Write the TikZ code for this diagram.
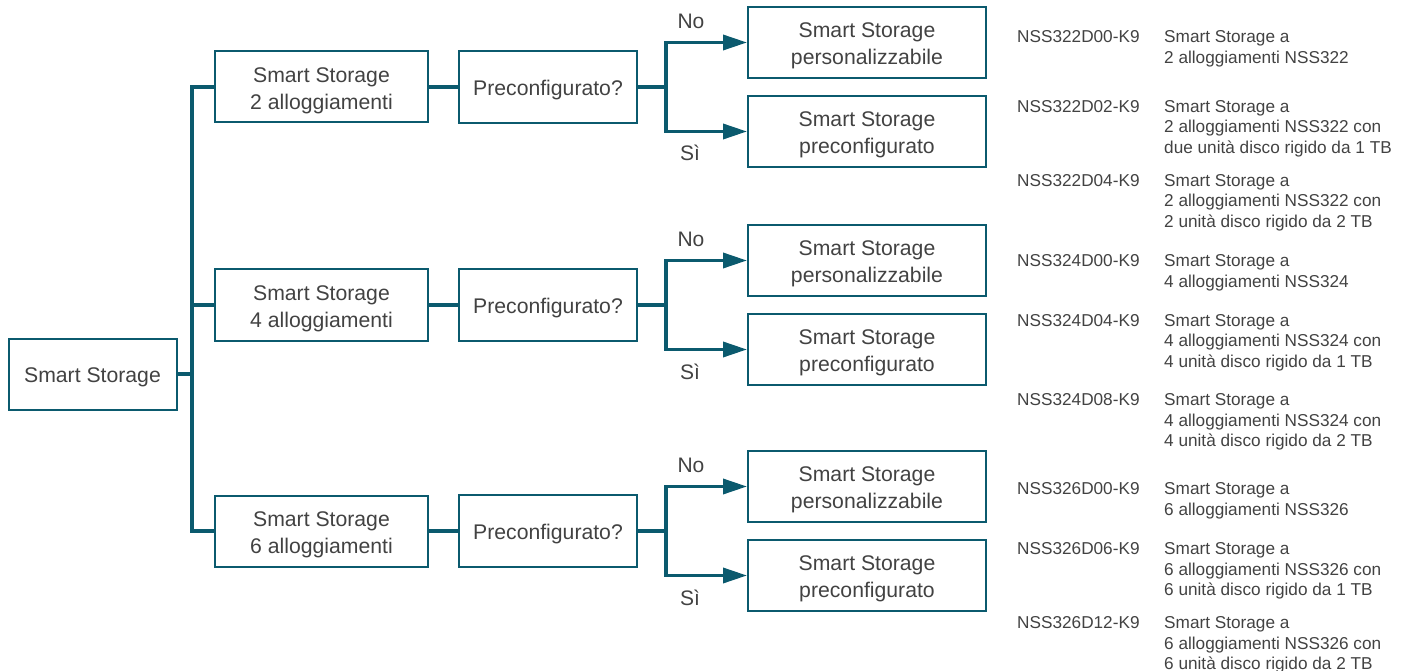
\documentclass[tikz,border=0pt]{standalone}
\usepackage{fontspec}
\setmainfont{Liberation Sans}
\usetikzlibrary{arrows.meta}
\definecolor{cteal}{HTML}{0B5A6E}
\definecolor{txt}{HTML}{424242}
\newcommand\tl[1]{\begin{tabular}[t]{@{}l@{}}#1\end{tabular}}
\newcommand\bt[1]{\raisebox{-3.5pt}[\height][\depth]{\begin{tabular}{@{}c@{}}#1\end{tabular}}}
\begin{document}
\begin{tikzpicture}[x=1pt,y=-1pt,
  box/.style={draw=cteal, line width=2pt, minimum height=71pt, text=txt,
    font=\fontsize{21.2}{27}\selectfont, inner sep=0pt},
  conn/.style={draw=cteal, line width=3.5pt},
  arr2/.style={conn, {Triangle[length=24pt,width=15pt]}-{Triangle[length=24pt,width=15pt]}},
  lbl/.style={text=txt, font=\fontsize{21}{24}\selectfont, inner sep=0pt},
  code/.style={anchor=base west, inner sep=0pt, text=txt, font=\fontsize{17.2}{20.5}\selectfont},
]
\useasboundingbox (0,0) rectangle (1406,671);

% root
\node[box, minimum width=168pt] (root) at (92.5,374) {\bt{Smart Storage}};

% branches
\node[box, minimum width=213pt] (b1) at (321.5,87) {\bt{Smart Storage\\2 alloggiamenti}};
\node[box, minimum width=213pt] (b2) at (321.5,305) {\bt{Smart Storage\\4 alloggiamenti}};
\node[box, minimum width=213pt] (b3) at (321.5,531) {\bt{Smart Storage\\6 alloggiamenti}};

% questions
\node[box, minimum width=178pt, minimum height=72pt] (p1) at (548,87) {\bt{Preconfigurato?}};
\node[box, minimum width=178pt, minimum height=72pt] (p2) at (548,305) {\bt{Preconfigurato?}};
\node[box, minimum width=178pt, minimum height=72pt] (p3) at (548,531) {\bt{Preconfigurato?}};

% leaves
\node[box, minimum width=238pt] (n1) at (867,42.5) {\bt{Smart Storage\\personalizzabile}};
\node[box, minimum width=238pt] (s1) at (867,131.5) {\bt{Smart Storage\\preconfigurato}};
\node[box, minimum width=238pt] (n2) at (867,260.5) {\bt{Smart Storage\\personalizzabile}};
\node[box, minimum width=238pt] (s2) at (867,349.5) {\bt{Smart Storage\\preconfigurato}};
\node[box, minimum width=238pt] (n3) at (867,486.5) {\bt{Smart Storage\\personalizzabile}};
\node[box, minimum width=238pt] (s3) at (867,575.5) {\bt{Smart Storage\\preconfigurato}};

% trunk
\coordinate (tk) at (192,0);
\coordinate (sp) at (666,0);
\draw[conn] (root.east) -- (root.east -| tk);
\draw[conn] (b1.west) -- (b1.west -| tk) -- (b3.west -| tk) -- (b3.west);
\draw[conn] (b2.west -| tk) -- (b2.west);

% branch -> question -> leaves
\foreach \i in {1,2,3}{
  \draw[conn] (b\i.east) -- (p\i.west);
  \draw[conn] (p\i.east) -- (p\i.east -| sp);
  \draw[arr2] (n\i.west) -- (n\i.west -| sp) -- (s\i.west -| sp) -- (s\i.west);
}

% labels
\node[lbl] (no1) at (691,21) {No};
\node[lbl] (si1) at (690,153) {Sì};
\node[lbl] (no2) at (691,239) {No};
\node[lbl] (si2) at (690,372) {Sì};
\node[lbl] (no3) at (691,465) {No};
\node[lbl] (si3) at (690,598) {Sì};

% product list
\node[code] (c1) at (1017,43) {NSS322D00-K9};
\node[code] (d1) at (1164,43) {\tl{Smart Storage a\\2 alloggiamenti NSS322}};
\node[code] (c2) at (1017,112.5) {NSS322D02-K9};
\node[code] (d2) at (1164,112.5) {\tl{Smart Storage a\\2 alloggiamenti NSS322 con\\due unità disco rigido da 1 TB}};
\node[code] (c3) at (1017,186.5) {NSS322D04-K9};
\node[code] (d3) at (1164,186.5) {\tl{Smart Storage a\\2 alloggiamenti NSS322 con\\2 unità disco rigido da 2 TB}};
\node[code] (c4) at (1017,267) {NSS324D00-K9};
\node[code] (d4) at (1164,267) {\tl{Smart Storage a\\4 alloggiamenti NSS324}};
\node[code] (c5) at (1017,326.5) {NSS324D04-K9};
\node[code] (d5) at (1164,326.5) {\tl{Smart Storage a\\4 alloggiamenti NSS324 con\\4 unità disco rigido da 1 TB}};
\node[code] (c6) at (1017,405.5) {NSS324D08-K9};
\node[code] (d6) at (1164,405.5) {\tl{Smart Storage a\\4 alloggiamenti NSS324 con\\4 unità disco rigido da 2 TB}};
\node[code] (c7) at (1017,494.5) {NSS326D00-K9};
\node[code] (d7) at (1164,494.5) {\tl{Smart Storage a\\6 alloggiamenti NSS326}};
\node[code] (c8) at (1017,554.5) {NSS326D06-K9};
\node[code] (d8) at (1164,554.5) {\tl{Smart Storage a\\6 alloggiamenti NSS326 con\\6 unità disco rigido da 1 TB}};
\node[code] (c9) at (1017,628.5) {NSS326D12-K9};
\node[code] (d9) at (1164,628.5) {\tl{Smart Storage a\\6 alloggiamenti NSS326 con\\6 unità disco rigido da 2 TB}};
\end{tikzpicture}
\end{document}
